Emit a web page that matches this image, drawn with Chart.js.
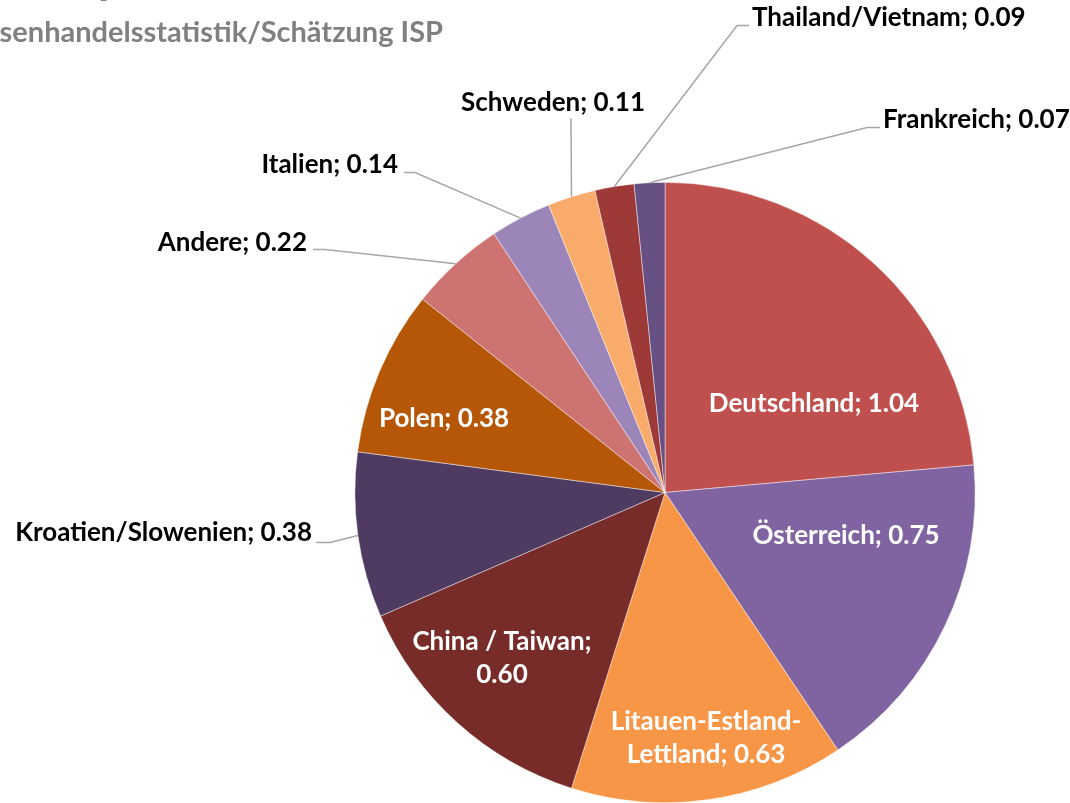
<!DOCTYPE html>
<html>
<head>
<meta charset="utf-8">
<script src="https://cdn.jsdelivr.net/npm/chart.js@4.4.1/dist/chart.umd.min.js"></script>
<style>
  body { margin: 0; background: #fff; }
  #wrap { width: 1070px; height: 803px; position: relative; }
</style>
</head>
<body>
<div id="wrap"><canvas id="pieChart"></canvas></div>
<script>
const titleText = 'Importländer (Mio. m³)';
const subtitleText = 'senhandelsstatistik/Schätzung ISP';

const countries = [
  'Deutschland', 'Österreich', 'Litauen-Estland-Lettland', 'China / Taiwan',
  'Kroatien/Slowenien', 'Polen', 'Andere', 'Italien', 'Schweden',
  'Thailand/Vietnam', 'Frankreich'
];
const volumes = [1.04, 0.75, 0.63, 0.60, 0.38, 0.38, 0.22, 0.14, 0.11, 0.09, 0.07];
// label text lines as shown in the picture
const labelLines = [
  ['Deutschland; 1.04'], ['Österreich; 0.75'], ['Litauen-Estland-', 'Lettland; 0.63'],
  ['China / Taiwan;', '0.60'], ['Kroatien/Slowenien; 0.38'], ['Polen; 0.38'],
  ['Andere; 0.22'], ['Italien; 0.14'], ['Schweden; 0.11'],
  ['Thailand/Vietnam; 0.09'], ['Frankreich; 0.07']
];
const sliceColors = [
  '#C0504D', '#8064A2', '#F79646', '#772C2A', '#4F3B62', '#B65708',
  '#CD7371', '#9C85B8', '#F9AB6B', '#9D3A38', '#664F82'
];

// label placement relative to the pie centre (px)
const labelLayout = [
  { inside: true, at: [149, -89] },
  { inside: true, at: [181, 43] },
  { inside: true, at: [41, 229] },
  { inside: true, at: [-163, 149] },
  { elbow: [-335, 50], end: [-349, 50], text: [-353, 40], align: 'right' },
  { inside: true, at: [-221, -74] },
  { elbow: [-340, -243], end: [-352, -243], text: [-358, -250], align: 'right' },
  { elbow: [-250, -320], end: [-261, -320], text: [-267, -328], align: 'right' },
  { elbow: [-94, -374], end: [-94, -374], text: [-112, -390], align: 'center' },
  { elbow: [72, -467], end: [84, -467], text: [87, -475], align: 'left' },
  { elbow: [202, -365], end: [215, -365], text: [218, -373], align: 'left' }
];

const FONT = 'bold 26px Lato';

const pieLabels = {
  id: 'pieLabels',
  afterDatasetsDraw(chart) {
    const ctx = chart.ctx;
    const arcs = chart.getDatasetMeta(0).data;
    ctx.save();
    ctx.font = FONT;
    ctx.textBaseline = 'middle';
    arcs.forEach((arc, i) => {
      const lay = labelLayout[i];
      const cx = arc.x, cy = arc.y;
      const lines = labelLines[i];
      if (lay.inside) {
        ctx.fillStyle = '#fff';
        ctx.textAlign = 'center';
        lines.forEach((t, k) => ctx.fillText(t, cx + lay.at[0], cy + lay.at[1] + k * 33));
        return;
      }
      const mid = (arc.startAngle + arc.endAngle) / 2;
      const r = arc.outerRadius;
      ctx.strokeStyle = '#A6A6A6';
      ctx.lineWidth = 1.5;
      ctx.beginPath();
      ctx.moveTo(cx + Math.cos(mid) * r, cy + Math.sin(mid) * r);
      ctx.lineTo(cx + lay.elbow[0], cy + lay.elbow[1]);
      ctx.lineTo(cx + lay.end[0], cy + lay.end[1]);
      ctx.stroke();
      ctx.fillStyle = '#000';
      ctx.textAlign = lay.align;
      ctx.fillText(lines[0], cx + lay.text[0], cy + lay.text[1]);
    });
    ctx.restore();
  },
  afterDraw(chart) {
    const ctx = chart.ctx;
    ctx.save();
    ctx.fillStyle = '#808080';
    ctx.textBaseline = 'alphabetic';
    ctx.textAlign = 'right';
    ctx.font = 'bold 46px Lato';
    ctx.fillText(titleText, 507, -7);
    ctx.font = 'bold 29px Lato';
    ctx.fillText(subtitleText, 443, 42);
    ctx.restore();
  }
};

new Chart(document.getElementById('pieChart'), {
  type: 'pie',
  data: {
    labels: countries,
    datasets: [{
      data: volumes,
      backgroundColor: sliceColors,
      borderColor: 'rgba(255,255,255,0.55)',
      borderWidth: 0.8
    }]
  },
  options: {
    responsive: true,
    maintainAspectRatio: false,
    animation: false,
    layout: { padding: { left: 354, right: 94, top: 182, bottom: 0 } },
    plugins: {
      legend: { display: false },
      tooltip: { enabled: false }
    }
  },
  plugins: [pieLabels]
});
</script>
</body>
</html>
